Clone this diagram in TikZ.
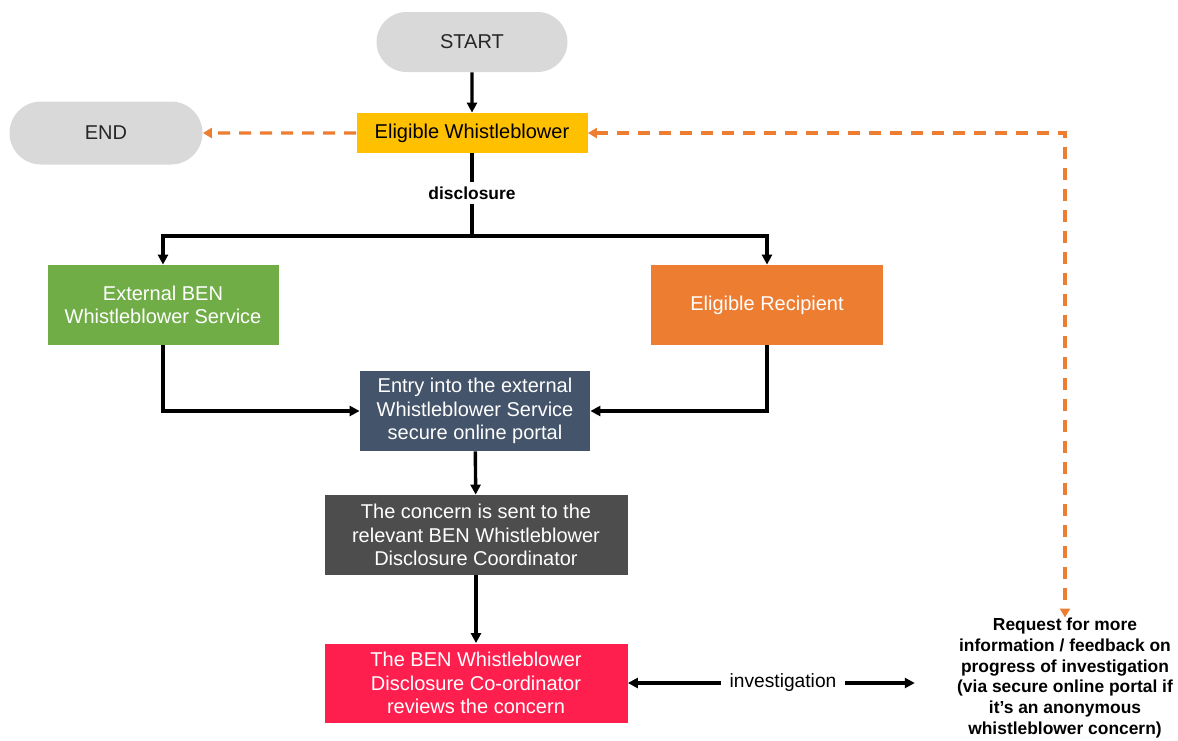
\documentclass[tikz,border=0pt]{standalone}
\usepackage{fontspec}
\setmainfont{Liberation Sans}
\usetikzlibrary{shapes.misc,arrows.meta}
\definecolor{pillgray}{HTML}{D9D9D9}
\definecolor{amber}{HTML}{FFC000}
\definecolor{leafgreen}{HTML}{70AD47}
\definecolor{tangerine}{HTML}{ED7D31}
\definecolor{slate}{HTML}{44546A}
\definecolor{charcoal}{HTML}{4D4D4D}
\definecolor{crimson}{HTML}{FF1F4F}

\begin{document}
\begin{tikzpicture}[x=0.5pt,y=-0.5pt,
		box/.style={rectangle,inner sep=0pt,align=center,text=white,font=\fontsize{10}{11.8}\selectfont},
		pill/.style={rounded rectangle,fill=pillgray,inner sep=0pt,text=black!85,font=\fontsize{10}{12}\selectfont},
		flow/.style={line width=1.7pt,-{Triangle[length=5pt,width=5pt]}},
		back/.style={line width=1.6pt,tangerine,dash pattern=on 6pt off 4.5pt},
		tag/.style={fill=white,inner sep=2pt,font=\bfseries\fontsize{8.7}{10.5}\selectfont}]
	\useasboundingbox (0,0) rectangle (1178,740);
	\node[pill,minimum width=95.5pt,minimum height=30pt] (start) at (472,42) {START};
	\node[pill,minimum width=96.5pt,minimum height=31.5pt] (finish) at (106,133) {END};
	\node[box,fill=amber,text=black,minimum width=115.5pt,minimum height=20pt] (whistleblower) at (472,133) {Eligible Whistleblower};
	\node[box,fill=leafgreen,minimum width=115.5pt,minimum height=40pt] (external) at (163,305) {External BEN\\Whistleblower Service};
	\node[box,fill=tangerine,minimum width=116pt,minimum height=40pt] (recipient) at (767,305) {Eligible Recipient};
	\node[box,fill=slate,minimum width=115pt,minimum height=40pt] (portal) at (475,411) {Entry into the external\\Whistleblower Service\\secure online portal};
	\node[box,fill=charcoal,minimum width=151.5pt,minimum height=40pt] (concern) at (476,535) {The concern is sent to the\\relevant BEN Whistleblower\\Disclosure Coordinator};
	\node[box,fill=crimson,minimum width=151.5pt,minimum height=39.5pt] (review) at (476,683) {The BEN Whistleblower\\Disclosure Co-ordinator\\reviews the concern};
	\node[align=center,inner sep=0pt,font=\bfseries\fontsize{8.7}{10.4}\selectfont] (request) at (1065,678) {Request for more\\information / feedback on\\progress of investigation\\(via secure online portal if\\it’s an anonymous\\whistleblower concern)};
	\node[tag] (disclosure) at (472,193) {disclosure};
	\node[tag,font=\fontsize{9.6}{11}\selectfont,inner xsep=4pt] (investigation) at (783,683) {investigation};
	\coordinate (split) at (472,236);

	\draw[flow] (start) -- (whistleblower);
	\draw[line width=1.7pt] (whistleblower) -- (disclosure) -- (split);
	\draw[flow] (split) -| (external);
	\draw[flow] (split) -| (recipient);
	\draw[flow] (external) |- (portal);
	\draw[flow] (recipient) |- (portal);
	\draw[flow] (portal) -- (concern);
	\draw[flow] (concern) -- (review);
	\draw[flow] (investigation) -- (review);
	\draw[flow,shorten >=21pt] (investigation) -- (investigation -| request.west);
	\draw[back,-{Triangle[length=4.5pt,width=5pt]}] (whistleblower) -- (finish);
	\draw[back,{Triangle[length=4.5pt,width=5pt]}-{Triangle[length=4.5pt,width=5pt]}] (whistleblower) -| (request);
\end{tikzpicture}
\end{document}
